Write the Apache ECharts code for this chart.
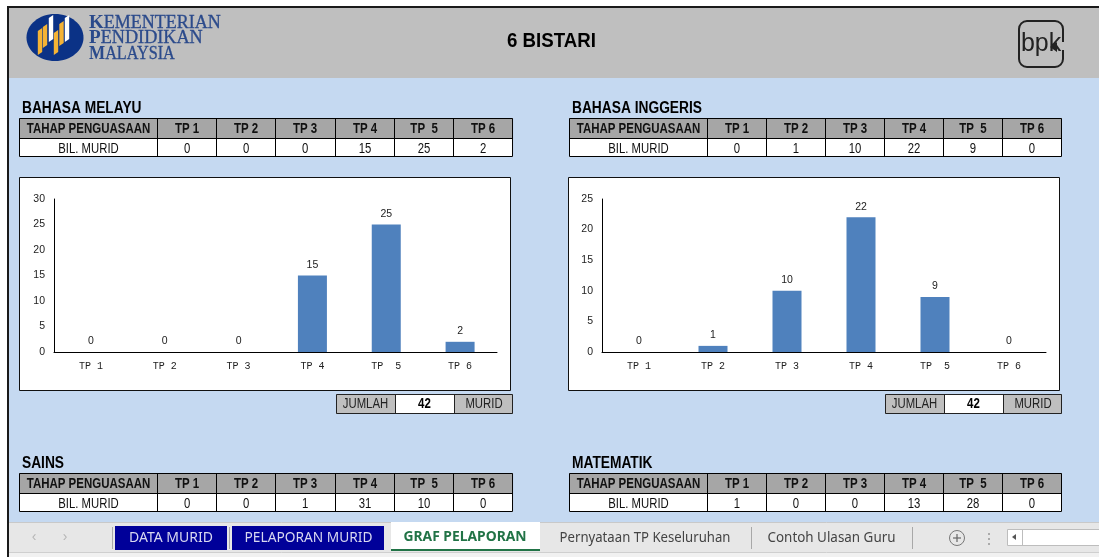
<!DOCTYPE html>
<html>
<head>
<meta charset="utf-8">
<script src="https://cdn.jsdelivr.net/npm/echarts@6/dist/echarts.min.js"></script>
<style>html,body{margin:0;padding:0;background:#fff}#c{width:1099px;height:557px}</style>
</head>
<body>
<div id="c"></div>
<script>
const levels = ['TP 1','TP 2','TP 3','TP 4','TP  5','TP 6'];
const chartLevels = ['TP 1','TP 2','TP 3','TP 4','TP  5','TP 6'];
const bahasaMelayu = [0,0,0,15,25,2];
const bahasaInggeris = [0,1,10,22,9,0];
const sains = [0,0,1,31,10,0];
const matematik = [1,0,0,13,28,0];
const totalMurid = 42;
const rowHead = 'TAHAP PENGUASAAN', rowName = 'BIL. MURID';
const tabsNavy = ['DATA MURID','PELAPORAN MURID'];
const tabActive = 'GRAF PELAPORAN';
const tabsPlain = ['Pernyataan TP Keseluruhan','Contoh Ulasan Guru'];

const SANS = '"Liberation Sans", Arial, sans-serif';
const g = [];
const rect = (x,y,w,h,fill,stroke,lw) => g.push({type:'rect',silent:true,shape:{x,y,width:w,height:h},style:{fill:fill||'transparent',stroke:stroke||null,lineWidth:lw||0}});
const line = (x1,y1,x2,y2,stroke,lw) => g.push({type:'line',silent:true,shape:{x1,y1,x2,y2},style:{stroke,lineWidth:lw||1}});
const text = (x,y,t,font,fill,align,sx) => g.push({type:'text',silent:true,x,y,scaleX:sx||1,style:{text:t,font,fill:fill||'#000',textAlign:align||'center',textVerticalAlign:'middle'}});
const poly = (points,fill) => g.push({type:'polygon',silent:true,shape:{points},style:{fill}});

/* page chrome */
rect(9,8,1090,70,'#BFBFBF');
rect(9,78,1090,444,'#C5D9F1');
rect(7,6,1092,2,'#1a1a1a');
rect(7,6,2,551,'#1a1a1a');

/* ministry logo */
g.push({type:'ellipse',silent:true,shape:{cx:55,cy:37.5,rx:28.5,ry:23.5},style:{fill:'#0B3286'}});
[[40,31,55,'#F5B335'],[45,27,48,'#F5B335'],[51,18,42,'#FFFFFF'],[56,33,55,'#F5B335'],[61.5,24,46,'#F5B335'],[67,18,42,'#FFFFFF']].forEach(s=>{
  poly([[s[0]-2.2,s[2]],[s[0]+2.2,s[2]-3],[s[0]+2.2,s[1]-3],[s[0]-2.2,s[1]]],s[3]);
});
const serif='"Liberation Serif","Times New Roman",serif';
function brand(y,first,rest,sx){
  g.push({type:'text',silent:true,x:89,y,scaleX:sx,style:{
    rich:{a:{font:'bold 19px '+serif,fill:'#2B4A8B'},b:{font:'18px '+serif,fill:'#2B4A8B',stroke:'#2B4A8B',lineWidth:0.3}},
    text:'{a|'+first+'}{b|'+rest+'}',textAlign:'left',textVerticalAlign:'middle'}});
}
brand(23,'K','EMENTERIAN',1.0);
brand(38,'P','ENDIDIKAN',1.01);
brand(54,'M','ALAYSIA',0.9);
text(551.5,41,'6 BISTARI','bold 21px '+SANS,'#000','center',0.89);

/* bpk logo */
g.push({type:'rect',silent:true,shape:{x:1019,y:21,width:44,height:46,r:8},style:{fill:'transparent',stroke:'#222',lineWidth:2}});
rect(1058,42,8,8,'#BFBFBF');
text(1041,44,'bpk','26px "Liberation Sans",sans-serif','#222','center',0.96);
poly([[1050,47],[1057,42],[1057,52]],'#222');

/* result tables */
function table(x0,yTitle,title,values,colW){
  const firstW=139, top=yTitle+11, h=20;
  text(x0+3,yTitle+2,title,'bold 16px '+SANS,'#000','left',0.86);
  const w=firstW+colW*6;
  rect(x0,top,w,h,'#A6A6A6');
  rect(x0,top+h,w,h-1,'#FFFFFF');
  rect(x0+.5,top+.5,w-1,2*h-2,null,'#000',1);
  line(x0,top+h+.5,x0+w,top+h+.5,'#000',1);
  text(x0+firstW/2,top+h/2+1.5,rowHead,'bold 14px '+SANS,'#111','center',0.82);
  text(x0+firstW/2,top+h*1.5+1,rowName,'14px '+SANS,'#111','center',0.81);
  levels.forEach((l,i)=>{
    const cx=Math.round(x0+firstW+colW*i)-.5;
    line(cx,top,cx,top+2*h-1,'#000',1);
    text(cx+colW/2,top+h/2+1.5,l,'bold 14px '+SANS,'#111','center',0.82);
    text(cx+colW/2,top+h*1.5+1,String(values[i]),'14px '+SANS,'#111','center',0.81);
  });
}
table(19,107,'BAHASA MELAYU',bahasaMelayu,59.17);
table(569,107,'BAHASA INGGERIS',bahasaInggeris,59);
table(19,462,'SAINS',sains,59.17);
table(569,462,'MATEMATIK',matematik,59);

/* chart frames go behind the grids */
rect(19.5,177.5,491,213,'#FFFFFF','#111',1);
rect(568.5,177.5,491,213,'#FFFFFF','#111',1);

/* total boxes */
function total(x0){
  const y=394,h=20;
  rect(x0,y,59,h,'#BFBFBF');rect(x0+59,y,59,h,'#FFFFFF');rect(x0+118,y,59,h,'#BFBFBF');
  rect(x0+.5,y+.5,176,h-1,null,'#222',1);
  line(x0+59.5,y,x0+59.5,y+h,'#222',1);line(x0+118.5,y,x0+118.5,y+h,'#222',1);
  text(x0+29.5,y+10.5,'JUMLAH','14px '+SANS,'#222','center',0.81);
  text(x0+88.5,y+10.5,String(totalMurid),'bold 14px '+SANS,'#000','center',0.82);
  text(x0+148,y+10.5,'MURID','14px '+SANS,'#222','center',0.81);
}
total(336);total(885);

/* sheet tabs */
rect(9,522,1090,30,'#E7E7E7');
rect(9,552,1090,5,'#F1F1F1');
line(9,522.5,1099,522.5,'#C9C9C9',1);
line(9,552.5,1099,552.5,'#CFCFCF',1);
const tabF='14px "Noto Sans",sans-serif';
text(34,537,'‹','14px '+SANS,'#B5B5B5');text(65,537,'›','14px '+SANS,'#B5B5B5');
line(112.5,527,112.5,549,'#A8A8A8',1);
rect(115,526,112,24,'#000099');
rect(232,526,152,24,'#000099');
line(229.5,527,229.5,549,'#A8A8A8',1);
text(171,538,tabsNavy[0],tabF,'#D8D8F0','center',1);
text(308.5,538,tabsNavy[1],tabF,'#D8D8F0','center',0.98);
rect(391,522,149,28,'#FFFFFF');
rect(391,549,149,2,'#217346');
text(465,537.5,tabActive,'bold 14px "Noto Sans",sans-serif','#217346','center',0.99);
text(645,538,tabsPlain[0],tabF,'#444','center',0.94);
line(751.5,527,751.5,549,'#A8A8A8',1);
text(831.5,538,tabsPlain[1],tabF,'#444','center',0.958);
line(912.5,527,912.5,549,'#A8A8A8',1);
g.push({type:'circle',silent:true,shape:{cx:957,cy:538,r:7.5},style:{fill:'transparent',stroke:'#777',lineWidth:1}});
line(953,538,961,538,'#666',1.2);line(957,534,957,542,'#666',1.2);
[533,538,543].forEach(y=>rect(988,y,2,2,'#AAAAAA'));
rect(1007.5,529.5,92,16,'#FFFFFF','#BDBDBD',1);
line(1022.5,529,1022.5,545,'#BDBDBD',1);
poly([[1012,537],[1016,534],[1016,540]],'#555');

function grid(left,width){return {left,width,top:199,height:153,containLabel:false};}
function xAxis(i){return {type:'category',gridIndex:i,data:chartLevels,axisTick:{show:false},
  axisLine:{lineStyle:{color:'#000',width:1}},
  axisLabel:{interval:0,margin:9,fontSize:10,color:'#222',fontFamily:'"Liberation Mono","DejaVu Sans Mono",monospace'}};}
function yAxis(i,max){return {type:'value',gridIndex:i,min:0,max,interval:5,splitLine:{show:false},axisTick:{show:false},
  axisLine:{show:true,lineStyle:{color:'#000',width:1}},
  axisLabel:{margin:9,fontSize:10.5,color:'#222',fontFamily:SANS}};}
function bars(i,data){return {type:'bar',xAxisIndex:i,yAxisIndex:i,data,barWidth:29,itemStyle:{color:'#4F81BD'},
  label:{show:true,position:'top',distance:5,fontSize:10.5,color:'#222',fontFamily:SANS},z:5};}

const chart=echarts.init(document.getElementById('c'),null,{renderer:'canvas'});
chart.setOption({
  animation:false,
  backgroundColor:'#FFFFFF',
  graphic:{elements:g.map(e=>Object.assign({z:-1},e))},
  grid:[grid(54,443),grid(602,444)],
  xAxis:[xAxis(0),xAxis(1)],
  yAxis:[yAxis(0,30),yAxis(1,25)],
  series:[bars(0,bahasaMelayu),bars(1,bahasaInggeris)]
});
</script>
</body>
</html>
